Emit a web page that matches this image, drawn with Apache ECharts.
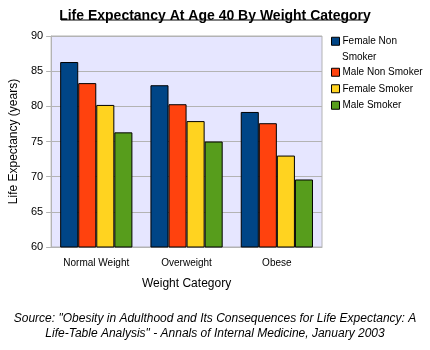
<!DOCTYPE html>
<html>
<head>
<meta charset="utf-8">
<script src="https://cdn.jsdelivr.net/npm/echarts@6/dist/echarts.min.js"></script>
<style>
  html, body { margin: 0; padding: 0; background: #fff; }
  #chart { width: 430px; height: 350px; }
</style>
</head>
<body>
<div id="chart"></div>
<script>
// 数据
var categories = ['Normal Weight', 'Overweight', 'Obese'];
var femaleNonSmoker = [86.3, 83.0, 79.2];
var maleNonSmoker = [83.3, 80.3, 77.6];
var femaleSmoker = [80.2, 77.9, 73.0];
var maleSmoker = [76.3, 75.0, 69.6];
var seriesNames = ['Female Non Smoker', 'Male Non Smoker', 'Female Smoker', 'Male Smoker'];
var colors = ['#004586', '#ff420e', '#ffd320', '#579d1c'];

var font = 'Liberation Sans, Arial, sans-serif';
var myChart = echarts.init(document.getElementById('chart'));

function bar(name, data, color) {
  return {
    name: name,
    type: 'bar',
    data: data,
    barGap: '0%',
    barCategoryGap: '20%',
    itemStyle: { color: color, borderColor: '#000', borderWidth: 1 }
  };
}

// 图例公共样式
function legend(top, data, formatter) {
  return {
    orient: 'vertical',
    left: 331,
    top: top,
    padding: 0,
    itemWidth: 8,
    itemHeight: 8,
    itemGap: 0,
    icon: 'rect',
    itemStyle: { borderColor: '#000', borderWidth: 1 },
    textStyle: { fontFamily: font, fontSize: 10, color: '#000', lineHeight: 16.5, padding: [0, 0, 0, -2] },
    formatter: formatter,
    data: data
  };
}

myChart.setOption({
  animation: false,
  color: colors,
  title: {
    text: 'Life Expectancy At Age 40 By Weight Category',
    left: 'center',
    top: 4,
    textStyle: { fontFamily: font, fontSize: 14, fontWeight: 'bold', color: '#000' }
  },
  legend: [
    legend(33, [seriesNames[0]], function () { return 'Female Non'; }),
    legend(64, seriesNames.slice(1))
  ],
  grid: { left: 48, right: 108, top: 36, bottom: 103, show: true,
    backgroundColor: '#e6e6ff', borderColor: '#b3b3b3', borderWidth: 1 },
  xAxis: {
    type: 'category',
    data: categories,
    name: 'Weight Category',
    nameLocation: 'middle',
    nameGap: 31,
    nameTextStyle: { fontFamily: font, fontSize: 12, color: '#000' },
    axisLine: { lineStyle: { color: '#b3b3b3' } },
    axisTick: { alignWithLabel: true, length: 5, lineStyle: { color: '#b3b3b3' } },
    axisLabel: { fontFamily: font, fontSize: 10, color: '#000', margin: 11 }
  },
  yAxis: {
    type: 'value',
    min: 60,
    max: 90,
    interval: 5,
    name: 'Life Expectancy (years)',
    nameLocation: 'middle',
    nameGap: 31,
    nameTextStyle: { fontFamily: font, fontSize: 12, color: '#000' },
    axisLine: { show: true, lineStyle: { color: '#b3b3b3' } },
    axisTick: { show: true, length: 5, lineStyle: { color: '#b3b3b3' } },
    splitLine: { lineStyle: { color: '#b3b3b3' } },
    axisLabel: { fontFamily: font, fontSize: 11, color: '#000', margin: 8 }
  },
  graphic: [
    // 标题下划线
    { type: 'line', shape: { x1: 61, y1: 20, x2: 368, y2: 20 }, style: { stroke: '#000', lineWidth: 1 } },
    // 图例第一项的第二行
    { type: 'text', left: 342, top: 52, style: { text: 'Smoker', font: '10px Liberation Sans, Arial, sans-serif', fill: '#000' } },
    {
      type: 'text',
      left: 'center',
      top: 311,
      style: {
        text: 'Source: "Obesity in Adulthood and Its Consequences for Life Expectancy: A\nLife-Table Analysis" - Annals of Internal Medicine, January 2003',
        font: 'italic 12px Liberation Sans, Arial, sans-serif',
        fill: '#000',
        textAlign: 'center',
        lineHeight: 15
      }
    }
  ],
  series: [
    bar(seriesNames[0], femaleNonSmoker, colors[0]),
    bar(seriesNames[1], maleNonSmoker, colors[1]),
    bar(seriesNames[2], femaleSmoker, colors[2]),
    bar(seriesNames[3], maleSmoker, colors[3])
  ]
});
</script>
</body>
</html>
